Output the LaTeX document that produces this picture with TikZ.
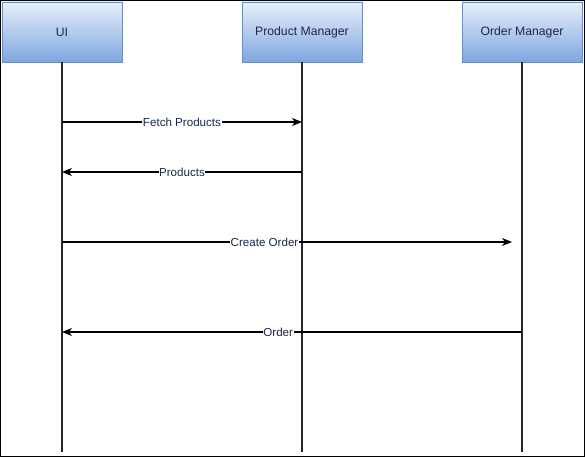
\documentclass[tikz,border=0pt]{standalone}
\usepackage{fontspec}
\setmainfont{Liberation Sans}
\usetikzlibrary{arrows.meta,positioning}
\definecolor{boxtop}{HTML}{E8F0FB}
\definecolor{boxbot}{HTML}{7EA6E0}
\definecolor{boxline}{HTML}{6C8EBF}
\definecolor{labtext}{HTML}{1A2A48}
\begin{document}
\begin{tikzpicture}[
    x=1pt,
    y=-1pt,
    font=\fontsize{11.6pt}{13pt}\selectfont,
    actor/.style={
        draw=boxline,
        top color=boxtop,
        bottom color=boxbot,
        minimum width=120pt,
        minimum height=60pt,
        inner sep=0pt,
        text=labtext,
        font=\fontsize{12.2pt}{14pt}\selectfont
    },
    life/.style={line width=1.4pt, draw=black!85},
    msg/.style={-{Stealth[length=10pt,width=8pt,inset=3pt]}, line width=1.4pt},
    lbl/.style={fill=white, inner sep=0.5pt, text=labtext}
]
% frame
\useasboundingbox (0,0) rectangle (585,457);
\draw[line width=1pt] (0.5,0.5) rectangle (584.5,456.5);

% participants
\node[actor] (ui) at (62,32) {UI};
\node[actor] (pm) at (302,32) {Product Manager};
\node[actor] (om) at (522,32) {Order Manager};

% lifelines
\coordinate (ui-end) at (62,452);
\coordinate (pm-end) at (302,452);
\coordinate (om-end) at (522,452);
\draw[life] (ui.south) -- (ui-end);
\draw[life] (pm.south) -- (pm-end);
\draw[life] (om.south) -- (om-end);

% message points
\coordinate (ui-a) at (62,122);
\coordinate (pm-a) at (302,122);
\coordinate (ui-b) at (62,172);
\coordinate (pm-b) at (302,172);
\coordinate (ui-c) at (62,242);
\coordinate (om-c) at (512,242);
\coordinate (ui-d) at (62,332);
\coordinate (om-d) at (522,332);

% messages
\draw[msg] (ui-a) -- node[lbl] {Fetch Products} (pm-a);
\draw[msg] (pm-b) -- node[lbl] {Products} (ui-b);
\draw[msg] (ui-c) -- node[lbl, pos=0.45] {Create Order} (om-c);
\draw[msg] (om-d) -- node[lbl, pos=0.53] {Order} (ui-d);

\end{tikzpicture}
\end{document}
